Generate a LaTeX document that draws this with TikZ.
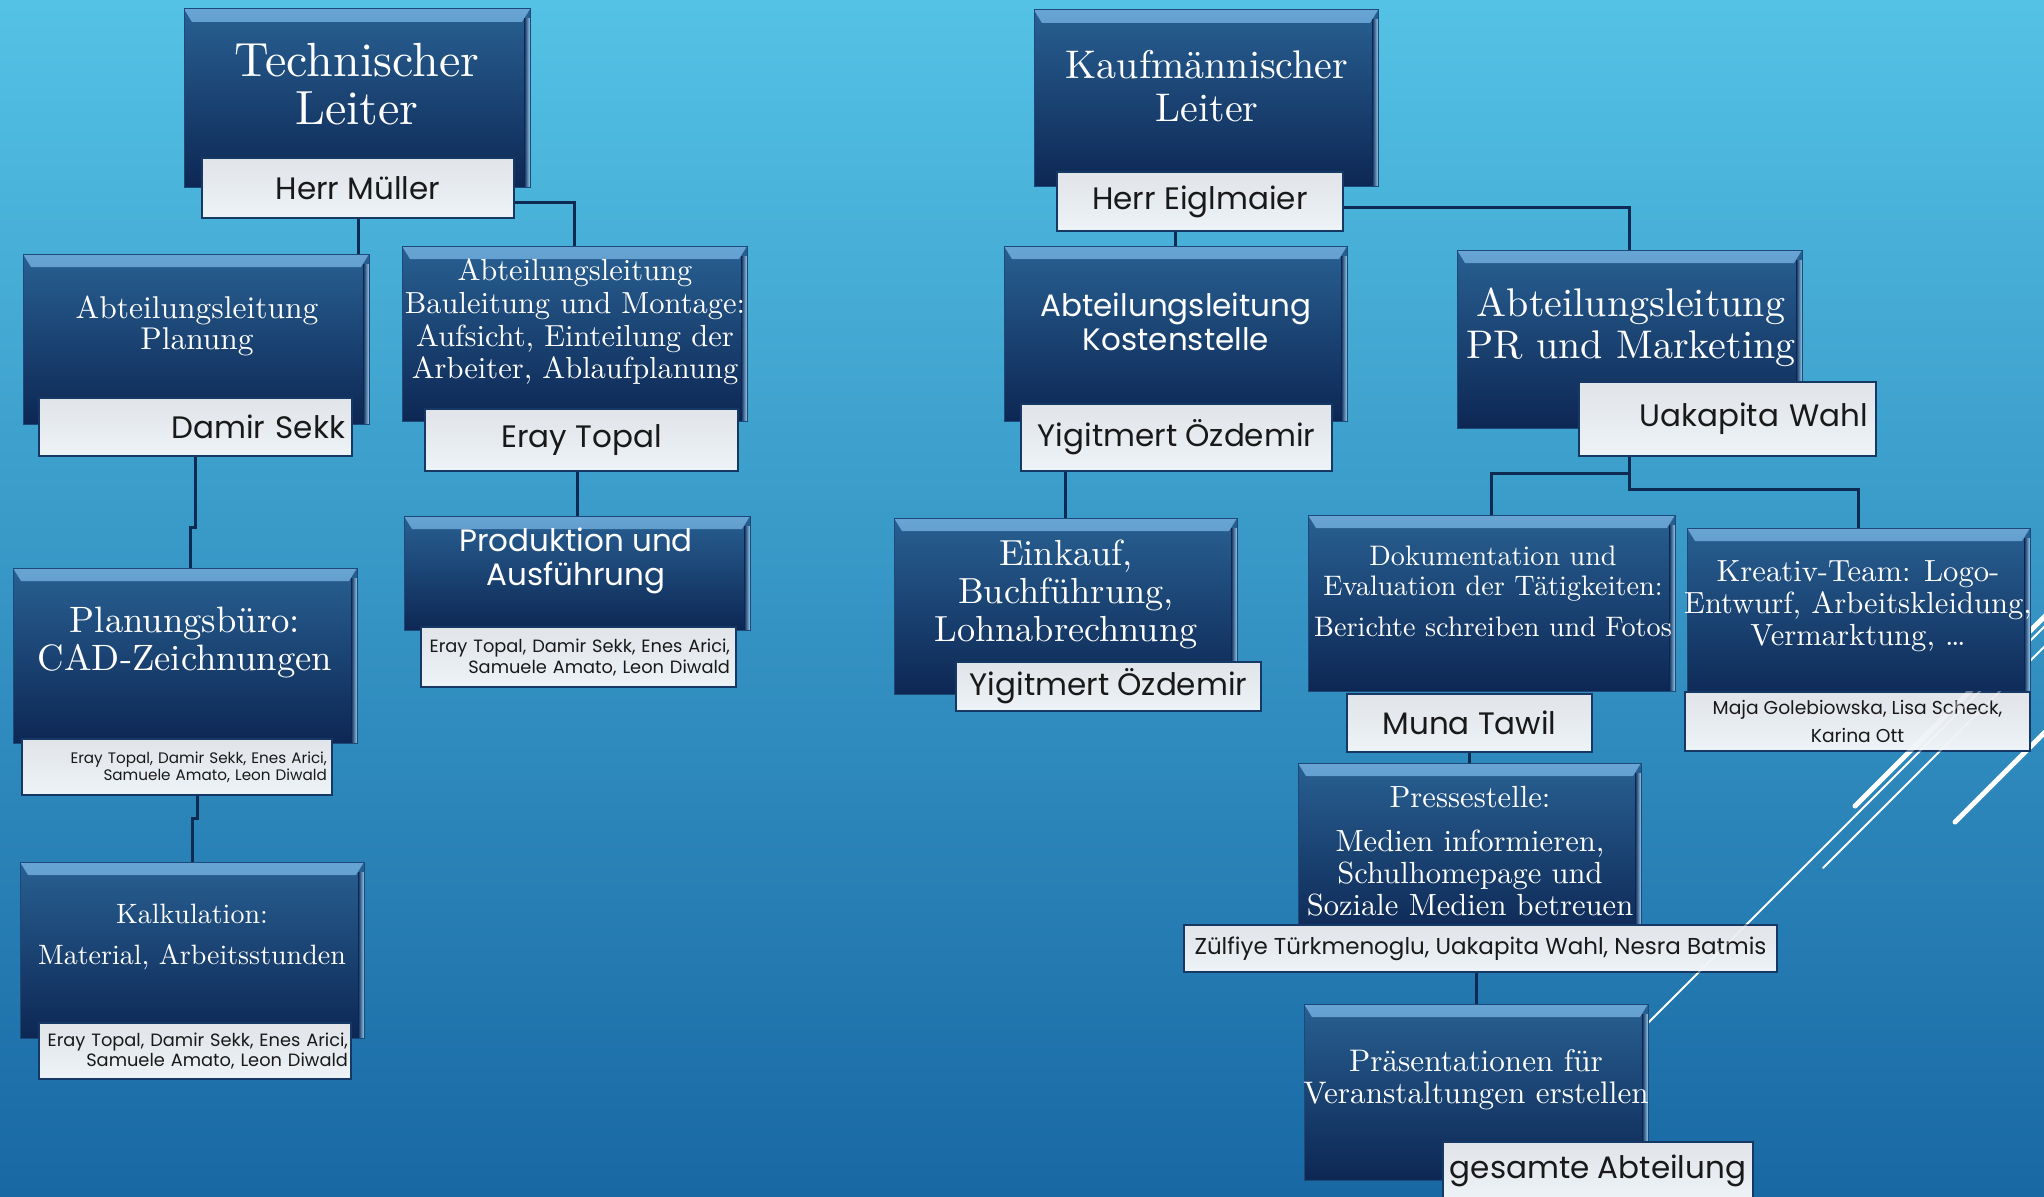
\documentclass[tikz,border=0pt]{standalone}
\usepackage{fontspec}
\setmainfont{lmroman10-regular.otf}
\newfontfamily\gothic{Poppins}
\usetikzlibrary{positioning}
\definecolor{bgtop}{RGB}{84,194,229}
\definecolor{bgbot}{RGB}{24,104,164}
\definecolor{boxtop}{RGB}{40,96,146}
\definecolor{boxbot}{RGB}{13,39,84}
\definecolor{boxrim}{RGB}{28,72,122}
\definecolor{bevel}{RGB}{105,165,212}
\definecolor{shine}{RGB}{150,205,238}
\definecolor{tagtop}{RGB}{225,228,233}
\definecolor{tagbot}{RGB}{237,243,247}
\definecolor{tagrim}{RGB}{22,56,100}
\definecolor{linkblue}{RGB}{12,42,82}

\tikzset{
  unitbox/.style={rectangle, inner sep=0pt, draw=boxrim, line width=1pt,
    top color=boxtop, bottom color=boxbot,
    path picture={
      \shade[top color=bevel, bottom color=boxtop]
        (path picture bounding box.north west) -- (path picture bounding box.north east)
        -- ([xshift=-8pt,yshift=-13pt]path picture bounding box.north east)
        -- ([xshift=8pt,yshift=-13pt]path picture bounding box.north west) -- cycle;
      \shade[left color=boxbot, right color=shine]
        ([xshift=-6pt,yshift=-10pt]path picture bounding box.north east) rectangle (path picture bounding box.south east);
    }},
  nametag/.style={rectangle, inner sep=0pt, draw=tagrim, line width=2pt,
    top color=tagtop, bottom color=tagbot, text=black!90,
    font=\gothic\fontsize{31}{34}\selectfont},
  captext/.style={text=white, align=center},
  linkline/.style={draw=linkblue, line width=3pt},
  decoline/.style={white, line cap=round}
}

\begin{document}
\begin{tikzpicture}[x=1pt, y=-1pt]
    \useasboundingbox (0,0) rectangle (2044,1196);
    % background
    \shade[top color=bgtop, bottom color=bgbot] (0,0) rectangle (2044,1196);
    \draw[decoline, line width=2pt] (1648,1023) -- (2060,611);
    \draw[decoline, line width=2pt] (1823,868) -- (2060,631);
    \draw[decoline, line width=5pt] (1855,806) -- (2060,601);
    \draw[decoline, line width=5pt] (1955,822) -- (2060,717);

    % Technischer Leiter
    \node[unitbox, minimum width=346pt, minimum height=178pt] (tl) at (357,98) {};
    \node[captext, font=\fontsize{48}{48}\selectfont] (tl-t) at (357,84) {Technischer\\Leiter};
    \node[nametag, minimum width=312pt, minimum height=60pt] (tl-n) at (358,188) {Herr Müller};

    \node[unitbox, minimum width=346pt, minimum height=170pt] (alp) at (196,339) {};
    \node[captext, font=\fontsize{31.5}{31}\selectfont] (alp-t) at (197,326) {Abteilungsleitung\\Planung};
    \node[nametag, minimum width=313pt, minimum height=58pt, text width=299pt, align=right] (alp-n) at (195.5,427) {Damir Sekk};

    \node[unitbox, minimum width=345pt, minimum height=175pt] (alb) at (574.5,333.5) {};
    \node[captext, font=\fontsize{30.5}{32.6}\selectfont] (alb-t) at (575,322) {Abteilungsleitung\\Bauleitung und Montage:\\Aufsicht, Einteilung der\\Arbeiter, Ablaufplanung};
    \node[nametag, minimum width=313pt, minimum height=62pt] (alb-n) at (581.5,440) {Eray Topal};

    \node[unitbox, minimum width=346pt, minimum height=114pt] (prod) at (577,573) {};
    \node[captext, font=\gothic\fontsize{31}{34}\selectfont] (prod-t) at (576,561) {Produktion und\\Ausführung};
    \node[nametag, minimum width=315pt, minimum height=60pt, text width=304pt, align=right,
      font=\gothic\fontsize{17.8}{21}\selectfont] (prod-n) at (578,657) {Eray Topal, Damir Sekk, Enes Arici,\\Samuele Amato, Leon Diwald};

    \node[unitbox, minimum width=344pt, minimum height=175pt] (plan) at (185,655.5) {};
    \node[captext, font=\fontsize{36.7}{38}\selectfont] (plan-t) at (185,643) {Planungsbüro:\\CAD-Zeichnungen};
    \node[nametag, minimum width=310pt, minimum height=56pt, text width=300pt, align=right,
      font=\gothic\fontsize{15.2}{17}\selectfont] (plan-n) at (177,767) {Eray Topal, Damir Sekk, Enes Arici,\\Samuele Amato, Leon Diwald};

    \node[unitbox, minimum width=344pt, minimum height=176pt] (kalk) at (192,950) {};
    \node[captext, font=\fontsize{28}{41}\selectfont] (kalk-t) at (192,937) {Kalkulation:\\Material, Arbeitsstunden};
    \node[nametag, minimum width=312pt, minimum height=56pt, text width=306pt, align=right,
      font=\gothic\fontsize{17.8}{20}\selectfont] (kalk-n) at (195,1051) {Eray Topal, Damir Sekk, Enes Arici,\\Samuele Amato, Leon Diwald};

    % Kaufmaennischer Leiter
    \node[unitbox, minimum width=344pt, minimum height=176pt] (kl) at (1206,98) {};
    \node[captext, font=\fontsize{40}{43}\selectfont] (kl-t) at (1207,86) {Kaufmännischer\\Leiter};
    \node[nametag, minimum width=286pt, minimum height=59pt] (kl-n) at (1200,201.5) {Herr Eiglmaier};

    \node[unitbox, minimum width=343pt, minimum height=175pt] (alk) at (1175.5,333.5) {};
    \node[captext, font=\gothic\fontsize{31}{34}\selectfont] (alk-t) at (1176,322) {Abteilungsleitung\\Kostenstelle};
    \node[nametag, minimum width=311pt, minimum height=67pt] (alk-n) at (1176.5,437.5) {Yigitmert Özdemir};

    \node[unitbox, minimum width=345pt, minimum height=178pt] (alpr) at (1629.5,339) {};
    \node[captext, font=\fontsize{40}{42}\selectfont] (alpr-t) at (1631,327) {Abteilungsleitung\\PR und Marketing};
    \node[nametag, minimum width=297pt, minimum height=74pt, text width=281pt, align=right] (alpr-n) at (1727.5,419) {Uakapita Wahl};

    \node[unitbox, minimum width=343pt, minimum height=176pt] (eink) at (1065.5,606) {};
    \node[captext, font=\fontsize{36.3}{38}\selectfont] (eink-t) at (1066,594) {Einkauf,\\Buchführung,\\Lohnabrechnung};
    \node[nametag, minimum width=305pt, minimum height=49pt] (eink-n) at (1108.5,686.5) {Yigitmert Özdemir};

    \node[unitbox, minimum width=367pt, minimum height=176pt] (doku) at (1491.5,603) {};
    \node[captext, font=\fontsize{28.2}{30}\selectfont] (doku-t) at (1493,591) {Dokumentation und\\Evaluation der Tätigkeiten:\\[11pt]Berichte schreiben und Fotos};
    \node[nametag, minimum width=245pt, minimum height=58pt] (doku-n) at (1469.5,723) {Muna Tawil};

    \node[unitbox, minimum width=343pt, minimum height=176pt] (krea) at (1858.5,616) {};
    \node[captext, font=\fontsize{30.6}{32}\selectfont] (krea-t) at (1858,606) {Kreativ-Team: Logo-\\Entwurf, Arbeitskleidung,\\Vermarktung, \dots};
    \node[nametag, minimum width=345pt, minimum height=59pt,
      font=\gothic\fontsize{18.7}{28}\selectfont, align=center] (krea-n) at (1857.5,721.5) {Maja Golebiowska, Lisa Scheck,\\Karina Ott};

    \node[unitbox, minimum width=343pt, minimum height=176pt] (press) at (1469.5,851) {};
    \node[captext, font=\fontsize{30.6}{32}\selectfont] (press-t) at (1470,851) {Pressestelle:\\[12pt]Medien informieren,\\Schulhomepage und\\Soziale Medien betreuen};
    \node[nametag, minimum width=593pt, minimum height=47pt,
      font=\gothic\fontsize{23}{26}\selectfont] (press-n) at (1480.5,948.5) {Zülfiye Türkmenoglu, Uakapita Wahl, Nesra Batmis};

    \node[unitbox, minimum width=344pt, minimum height=176pt] (praes) at (1476,1092) {};
    \node[captext, font=\fontsize{31.2}{32}\selectfont] (praes-t) at (1476,1080) {Präsentationen für\\Veranstaltungen erstellen};
    \node[nametag, minimum width=310pt, minimum height=58pt] (praes-n) at (1598,1171) {gesamte Abteilung};

    % white lines shining through the name tags
    \begin{scope}[opacity=0.35]
      \clip (krea-n.north west) rectangle (krea-n.south east) (press-n.north west) rectangle (press-n.south east);
      \draw[decoline, line width=2pt] (1648,1023) -- (2060,611);
      \draw[decoline, line width=2pt] (1823,868) -- (2060,631);
      \draw[decoline, line width=5pt] (1855,806) -- (2060,601);
    \end{scope}

    % connectors
    \draw[linkline] (tl-n.south) -- (tl-n.south |- alp.north);
    \draw[linkline] ([yshift=-14pt]tl-n.east) -| (alb.north);
    \draw[linkline] (alp-n.south) -- ++(0,70) -| ([xshift=5pt]plan.north);
    \draw[linkline] ([xshift=20pt]plan-n.south) -- ++(0,22) -| (kalk.north);
    \draw[linkline] (prod.north |- alb-n.south) -- (prod.north);
    \draw[linkline] (alk.north |- kl-n.south) -- (alk.north);
    \draw[linkline] ([yshift=-6pt]kl-n.east) -| (alpr.north);
    \draw[linkline] (eink.north |- alk-n.south) -- (eink.north);
    \draw[linkline] (alpr.south |- alpr-n.south) -- ++(0,16) -| (doku.north);
    \draw[linkline] (alpr.south |- alpr-n.south) -- ++(0,32) -| (krea.north);
    \draw[linkline] (doku-n.south) -- (press.north);
    \draw[linkline] (praes.north |- press-n.south) -- (praes.north);
\end{tikzpicture}
\end{document}
